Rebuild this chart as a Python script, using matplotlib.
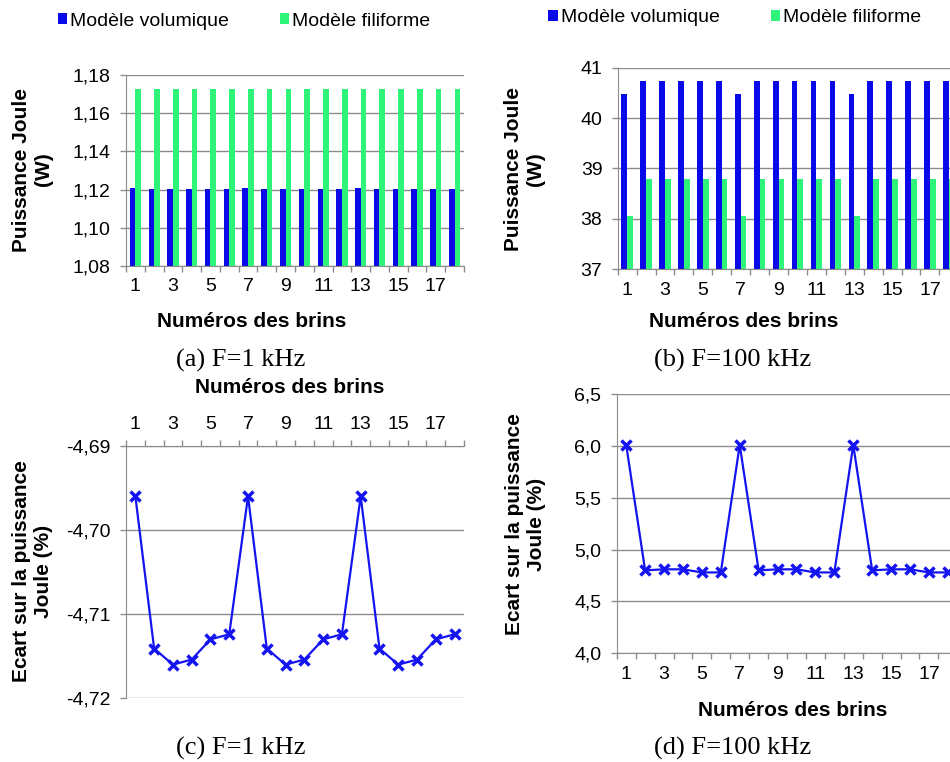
import matplotlib.pyplot as plt
import numpy as np
from matplotlib.ticker import FuncFormatter, MultipleLocator

# Data
brins = [1, 2, 3, 4, 5, 6, 7, 8, 9, 10, 11, 12, 13, 14, 15, 16, 17, 18]

p1k_vol = [1.1210, 1.1205, 1.1205, 1.1205, 1.1205, 1.1205,
           1.1210, 1.1205, 1.1205, 1.1205, 1.1205, 1.1205,
           1.1210, 1.1205, 1.1205, 1.1205, 1.1205, 1.1205]
p1k_fil = [1.1728, 1.1728, 1.1728, 1.1728, 1.1728, 1.1728,
           1.1728, 1.1728, 1.1728, 1.1728, 1.1728, 1.1728,
           1.1728, 1.1728, 1.1728, 1.1728, 1.1728, 1.1728]

p100k_vol = [40.48, 40.74, 40.74, 40.74, 40.74, 40.74,
             40.48, 40.74, 40.74, 40.74, 40.74, 40.74,
             40.48, 40.74, 40.74, 40.74, 40.74, 40.74]
p100k_fil = [38.06, 38.79, 38.79, 38.79, 38.79, 38.79,
             38.06, 38.79, 38.79, 38.79, 38.79, 38.79,
             38.06, 38.79, 38.79, 38.79, 38.79, 38.79]

ecart_1k = [-4.6960, -4.7141, -4.7160, -4.7154, -4.7130, -4.7124,
            -4.6960, -4.7141, -4.7160, -4.7154, -4.7130, -4.7124,
            -4.6960, -4.7141, -4.7160, -4.7154, -4.7130, -4.7124]
ecart_100k = [6.01, 4.80, 4.81, 4.81, 4.78, 4.78,
              6.01, 4.80, 4.81, 4.81, 4.78, 4.78,
              6.01, 4.80, 4.81, 4.81, 4.78, 4.78]

xtick_labels = ['1', '3', '5', '7', '9', '11', '13', '15', '17']

blue = '#0A0AE8'
green = '#2EF57A'
line_blue = '#1414F0'
grey = '#8C8C8C'

plt.rcParams['font.family'] = ['Liberation Sans', 'DejaVu Sans']

fig = plt.figure(figsize=(9.5, 7.62), dpi=100)

ax_a = fig.add_axes([0.1326, 0.6513, 0.3558, 0.2499])
ax_b = fig.add_axes([0.6502, 0.6466, 0.3585, 0.2646])
ax_c = fig.add_axes([0.1326, 0.0836, 0.3558, 0.3315])
ax_d = fig.add_axes([0.6492, 0.1426, 0.3585, 0.3403])

x = np.array(brins)


def comma(fmt):
    return FuncFormatter(lambda v, p: (fmt % v).replace('.', ','))


def style(ax, ylim, ystep, fmt, top=False):
    ax.set_xlim(0.5, 18.5)
    ax.set_ylim(*ylim)
    ax.yaxis.set_major_locator(MultipleLocator(ystep))
    ax.yaxis.set_major_formatter(comma(fmt))
    ax.set_xticks([int(t) for t in xtick_labels])
    ax.set_xticklabels(xtick_labels)
    ax.set_xticks(np.arange(0.5, 19, 1), minor=True)
    ax.tick_params(axis='x', which='major', length=0, labelsize=14, pad=9,
                   top=top, bottom=not top, labeltop=top, labelbottom=not top)
    ax.tick_params(axis='x', which='minor', length=4, color=grey, width=1,
                   top=top, bottom=not top)
    ax.tick_params(axis='y', length=4, color=grey, width=1, labelsize=14, pad=7)
    ax.grid(axis='y', color=grey, linewidth=1)
    ax.set_axisbelow(True)
    ax.spines['right'].set_visible(False)
    for s in ['left', 'bottom', 'top']:
        ax.spines[s].set_color(grey)
    ax.spines['top' if not top else 'bottom'].set_visible(False)


# (a) bars 1 kHz
style(ax_a, (1.08, 1.18), 0.02, '%.2f')
ax_a.bar(x - 0.15, p1k_vol, width=0.3, color=blue, label='Modèle volumique')
ax_a.bar(x + 0.15, p1k_fil, width=0.3, color=green, label='Modèle filiforme')

# (b) bars 100 kHz
style(ax_b, (37, 41), 1, '%.0f')
ax_b.bar(x - 0.15, p100k_vol, width=0.3, color=blue, label='Modèle volumique')
ax_b.bar(x + 0.15, p100k_fil, width=0.3, color=green, label='Modèle filiforme')

for ax, lx, ly in [(ax_a, 0.349, 1.285), (ax_b, 0.344, 1.247)]:
    ax.legend(loc='center', bbox_to_anchor=(lx, ly), ncol=2, frameon=False,
              fontsize=14, handlelength=0.5, handleheight=0.55,
              handletextpad=0.15, columnspacing=2.6)

# (c) ecart 1 kHz
style(ax_c, (-4.72, -4.69), 0.01, '%.2f', top=True)
ax_c.plot(x, ecart_1k, color=line_blue, linewidth=1.6, marker='x',
          markersize=7, markeredgewidth=2.5)

# (d) ecart 100 kHz
style(ax_d, (4.0, 6.5), 0.5, '%.1f')
ax_d.plot(x, ecart_100k, color=line_blue, linewidth=1.6, marker='x',
          markersize=7, markeredgewidth=2.5)

lab = dict(fontsize=15, fontweight='bold')
ax_a.set_ylabel('Puissance Joule\n(W)', **lab)
ax_a.yaxis.set_label_coords(-0.277, 0.505)
ax_b.set_ylabel('Puissance Joule\n(W)', **lab)
ax_b.yaxis.set_label_coords(-0.274, 0.499)
ax_c.set_ylabel('Ecart sur la puissance\nJoule (%)', **lab)
ax_c.yaxis.set_label_coords(-0.277, 0.504)
ax_d.set_ylabel('Ecart sur la puissance\nJoule (%)', **lab)
ax_d.yaxis.set_label_coords(-0.269, 0.497)

for ax in [ax_a, ax_b, ax_c, ax_d]:
    ax.yaxis.label.set_va('center')

ax_a.set_xlabel('Numéros des brins', va='center', **lab)
ax_a.xaxis.set_label_coords(0.372, -0.294)
ax_b.set_xlabel('Numéros des brins', va='center', **lab)
ax_b.xaxis.set_label_coords(0.371, -0.261)
ax_c.set_xlabel('Numéros des brins', va='center', **lab)
ax_c.xaxis.set_label_position('top')
ax_c.xaxis.set_label_coords(0.485, 1.209)
ax_d.set_xlabel('Numéros des brins', va='center', **lab)
ax_d.xaxis.set_label_coords(0.516, -0.219)

cap = dict(fontsize=19, family='Liberation Serif', ha='center', va='center')
fig.text(240.7 / 950, 1 - 360 / 762, '(a) F=1 kHz', **cap)
fig.text(732.5 / 950, 1 - 360 / 762, '(b) F=100 kHz', **cap)
fig.text(240.7 / 950, 1 - 748 / 762, '(c) F=1 kHz', **cap)
fig.text(732.5 / 950, 1 - 748 / 762, '(d) F=100 kHz', **cap)

plt.savefig('out.png', dpi=100)
